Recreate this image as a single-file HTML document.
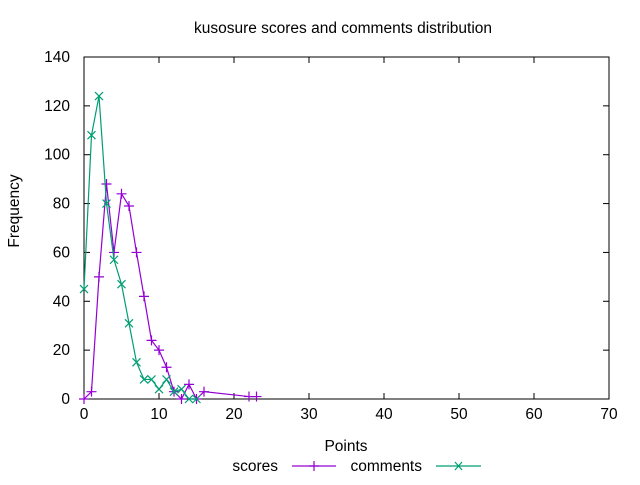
<!DOCTYPE html>
<html><head><meta charset="utf-8"><style>
body{margin:0;background:#fff}
svg text{font-family:"Liberation Sans",sans-serif;font-size:15.5px;fill:#000}
</style></head><body>
<svg id="chart" width="640" height="480" viewBox="0 0 640 480">
<rect width="640" height="480" fill="#fff"/>
<text x="343" y="33" text-anchor="middle">kusosure scores and comments distribution</text>
<g id="axes"></g>
<text x="346" y="451" text-anchor="middle">Points</text>
<text transform="translate(19,211) rotate(-90)" text-anchor="middle">Frequency</text>
<g id="series"></g>
<g>
<text x="278" y="471" text-anchor="end">scores</text>
<line x1="292" y1="466" x2="336" y2="466" stroke="#9400d3" stroke-width="1.2"/>
<path d="M314 461V471M309 466H319" stroke="#9400d3" stroke-width="1.2"/>
<text x="422" y="471" text-anchor="end">comments</text>
<line x1="436" y1="466" x2="481" y2="466" stroke="#009e73" stroke-width="1.2"/>
<path d="M455 462L462 470M455 470L462 462" stroke="#009e73" stroke-width="1.2"/>
</g>
</svg>
<script>
const xTicks=[0,10,20,30,40,50,60,70];
const yTicks=[0,20,40,60,80,100,120,140];
const scoreX=[0,1,2,3,4,5,6,7,8,9,10,11,12,13,14,15,16,22,23];
const scoreY=[0,3,50,88,60,84,79,60,42,24,20,13,3,0,6,0,3,1,1];
const commentX=[0,1,2,3,4,5,6,7,8,9,10,11,12,13,14,15];
const commentY=[45,108,124,80,57,47,31,15,8,8,4,8,3,4,0,0];
const X0=84,X1=609,Y0=399,Y1=57;
const sx=v=>X0+(v-0)/70*(X1-X0);
const sy=v=>Y0-(v-0)/140*(Y0-Y1);
const NS="http://www.w3.org/2000/svg";
function mk(t,a,p){const e=document.createElementNS(NS,t);for(const k in a)e.setAttribute(k,a[k]);p.appendChild(e);return e;}
const ax=document.getElementById('axes');
const frame=mk('rect',{x:X0,y:Y1,width:X1-X0,height:Y0-Y1,fill:'none',stroke:'#000','stroke-width':1},ax);


xTicks.forEach(v=>{const x=sx(v);
mk('line',{x1:x,y1:Y0,x2:x,y2:Y0-6,stroke:'#000'},ax);
mk('line',{x1:x,y1:Y1,x2:x,y2:Y1+6,stroke:'#000'},ax);
const t=mk('text',{x:x,y:Y0+20,'text-anchor':'middle'},ax);t.textContent=v;

});
yTicks.forEach(v=>{const y=sy(v);
mk('line',{x1:X0,y1:y,x2:X0+6,y2:y,stroke:'#000'},ax);
mk('line',{x1:X1,y1:y,x2:X1-6,y2:y,stroke:'#000'},ax);
const t=mk('text',{x:X0-14,y:y+5,'text-anchor':'end'},ax);t.textContent=v;

});
const sg=document.getElementById('series');
function series(xs,ys,col,name,plus){
const g=mk('g',{},sg);


const l=mk('polyline',{points:xs.map((x,i)=>sx(x)+','+sy(ys[i])).join(' '),fill:'none',stroke:col,'stroke-width':1.2},g);


xs.forEach((x,i)=>{const px=sx(x),py=sy(ys[i]);
const d=plus?`M${px} ${py-5}V${py+5}M${px-5} ${py}H${px+5}`:`M${px-4} ${py-4}L${px+4} ${py+4}M${px-4} ${py+4}L${px+4} ${py-4}`;
const m=mk('path',{d:d,stroke:col,'stroke-width':1.2},g);

});
}
series(scoreX,scoreY,'#9400d3','scores',true);
series(commentX,commentY,'#009e73','comments',false);
</script>
</body></html>
